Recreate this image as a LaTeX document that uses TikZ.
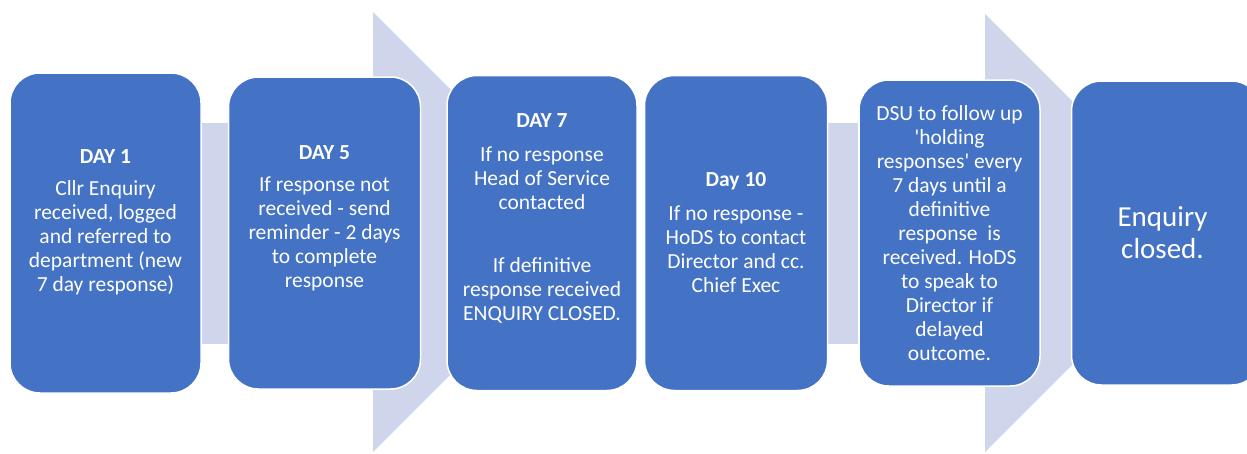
\documentclass[tikz,border=0pt]{standalone}
\usepackage{fontspec}
\setmainfont{Carlito}
\usepackage{xcolor}
\usetikzlibrary{positioning, backgrounds}
\definecolor{boxblue}{HTML}{4472C4}
\definecolor{linkgrey}{HTML}{CFD5EA}

\tikzset{
	stage/.style={draw=white, line width=1.5pt, fill=boxblue, rounded corners=30pt},
	txt/.style={text=white, align=center, inner sep=0pt, font=\fontsize{21.5}{24}\selectfont},
	link/.style={draw=linkgrey, line width=221pt}
}

\begin{document}
\begin{tikzpicture}[x=1pt, y=-1pt]
		\useasboundingbox (0,0) rectangle (1247,453);
		
		\node[stage, minimum width=191pt, minimum height=320pt] (b1) at (105.5,233) {};
		\node[stage, minimum width=192pt, minimum height=312pt, right=26pt of b1] (b2) {};
		\node[stage, minimum width=190pt, minimum height=315pt, right=25pt of b2] (b3) {};
		\node[stage, minimum width=183pt, minimum height=315pt, right=6pt of b3] (b4) {};
		\node[stage, minimum width=181pt, minimum height=306pt, right=30pt of b4] (b5) {};
		\node[stage, minimum width=190pt, minimum height=304pt, right=30pt of b5] (b6) {};
		
		\node[txt] (t1) at ([yshift=11pt]b1.center) {\textbf{DAY 1}\\[8pt] Cllr Enquiry\\ received, logged\\ and referred to\\ department (new\\ 7 day response)};
		\node[txt] (t2) at ([yshift=15pt]b2.center) {\textbf{DAY 5}\\[8pt] If response not\\ received - send\\ reminder - 2 days\\ to complete\\ response};
		\node[txt] (t3) at ([yshift=15pt]b3.center) {\textbf{DAY 7}\\[10pt] If no response\\ Head of Service\\ contacted\\[39pt] If definitive\\ response received\\ ENQUIRY CLOSED.};
		\node[txt] (t4) at (b4.center) {\textbf{Day 10}\\[10pt] If no response -\\ HoDS to contact\\ Director and cc.\\ Chief Exec};
		\node[txt] (t5) at (b5.center) {DSU to follow up\\ \textquotesingle holding\\ responses\textquotesingle{} every\\ 7 days until a\\ definitive\\ response~ is\\ received. HoDS\\ to speak to\\ Director if\\ delayed\\ outcome.};
		\node[txt, font=\fontsize{29}{32}\selectfont] (t6) at ([xshift=-4pt]b6.center) {Enquiry\\ closed.};
		
		\begin{scope}[on background layer]
			\draw[link] (b1) -- (b2);
			\draw[link] (b4) -- (b5);
			\fill[linkgrey] (373,12) -- (593,232) -- (373,452) -- cycle;
			\fill[linkgrey] (985,14) -- (1204,233) -- (985,452) -- cycle;
		\end{scope}
		
	\end{tikzpicture}
\end{document}
